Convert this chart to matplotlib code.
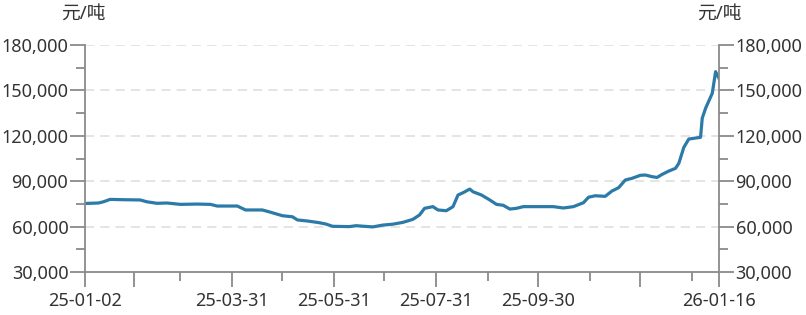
import matplotlib
matplotlib.use('Agg')
import matplotlib.pyplot as plt
import matplotlib.ticker as mticker
import pandas as pd

plt.rcParams['font.family'] = ['Noto Sans', 'Noto Sans CJK SC', 'DejaVu Sans']

# price series (元/吨)
dates = ['2025-01-02', '2025-01-10', '2025-01-13', '2025-01-17', '2025-01-24',
         '2025-02-04', '2025-02-08', '2025-02-14', '2025-02-20', '2025-02-28',
         '2025-03-10', '2025-03-18', '2025-03-22', '2025-04-03', '2025-04-08',
         '2025-04-18', '2025-04-22', '2025-04-30', '2025-05-06', '2025-05-09',
         '2025-05-15', '2025-05-22', '2025-05-26', '2025-05-30', '2025-06-09',
         '2025-06-13', '2025-06-23', '2025-06-29', '2025-07-05', '2025-07-11',
         '2025-07-17', '2025-07-21', '2025-07-24', '2025-07-29', '2025-08-01',
         '2025-08-06', '2025-08-10', '2025-08-13', '2025-08-16', '2025-08-20',
         '2025-08-22', '2025-08-27', '2025-09-01', '2025-09-05', '2025-09-09',
         '2025-09-13', '2025-09-17', '2025-09-21', '2025-10-09', '2025-10-15',
         '2025-10-21', '2025-10-27', '2025-10-30', '2025-11-03', '2025-11-09',
         '2025-11-13', '2025-11-17', '2025-11-21', '2025-11-25', '2025-11-30',
         '2025-12-03', '2025-12-07', '2025-12-10', '2025-12-13', '2025-12-17',
         '2025-12-21', '2025-12-23', '2025-12-26', '2025-12-29', '2026-01-05',
         '2026-01-06', '2026-01-08', '2026-01-12', '2026-01-14', '2026-01-16']
prices = [75300, 75600, 76400, 78000, 77800,
          77600, 76400, 75400, 75600, 74700,
          74900, 74700, 73600, 73600, 71000,
          71000, 69800, 67200, 66500, 64400,
          63700, 62600, 61700, 60200, 60000,
          60600, 59800, 61000, 61600, 62800,
          64800, 67700, 72100, 73200, 71000,
          70500, 73200, 80900, 82400, 84800,
          83000, 80900, 77600, 74700, 74100,
          71600, 72100, 73200, 73200, 72300,
          73200, 75800, 79400, 80400, 80000,
          83500, 85700, 90800, 91900, 93900,
          94100, 93000, 92500, 94500, 96700,
          98500, 101800, 112400, 117900, 119000,
          131600, 138200, 148100, 162400, 158000]

# x axis ticks
major_ticks = ['2025-01-02', '2025-01-31', '2025-03-31', '2025-05-31',
               '2025-07-31', '2025-09-30', '2025-11-30', '2026-01-16']
major_labels = ['25-01-02', '', '25-03-31', '25-05-31',
                '25-07-31', '25-09-30', '', '26-01-16']
minor_ticks = ['2025-02-28', '2025-04-30', '2025-06-30',
               '2025-08-31', '2025-10-31', '2025-12-31']
y_ticks = [30000, 60000, 90000, 120000, 150000, 180000]
unit = '元/吨'

x = pd.to_datetime(dates)
axis_color = '#8a8a8a'
text_color = '#333333'

fig = plt.figure(figsize=(8.06, 3.15), dpi=100)
ax = fig.add_axes([0.1055, 0.1365, 0.7865, 0.7205])

ax.plot(x, prices, color='#2b7aa8', lw=2.3, solid_joinstyle='round')

ax.set_xlim(pd.Timestamp(major_ticks[0]), pd.Timestamp(major_ticks[-1]))
ax.set_ylim(30000, 180000)

ax.set_xticks(pd.to_datetime(major_ticks))
ax.set_xticklabels(major_labels)
ax.set_xticks(pd.to_datetime(minor_ticks), minor=True)

ax.set_yticks(y_ticks)
ax.yaxis.set_minor_locator(mticker.MultipleLocator(15000))
ax.yaxis.set_major_formatter(mticker.FuncFormatter(lambda v, p: f'{int(v):,}'))

for side in ['left', 'right', 'bottom']:
    ax.spines[side].set_color(axis_color)
    ax.spines[side].set_linewidth(1.3)
ax.spines['top'].set_visible(False)

ax.tick_params(axis='y', which='both', left=True, right=True,
               labelleft=True, labelright=True, color=axis_color, width=1.3)
ax.tick_params(axis='y', which='major', length=11, pad=1,
               labelsize=13, labelcolor=text_color)
ax.tick_params(axis='y', which='minor', length=6.5)
ax.tick_params(axis='x', which='both', color=axis_color, width=1.3)
ax.tick_params(axis='x', which='major', length=11, pad=3.5,
               labelsize=13, labelcolor=text_color)
ax.tick_params(axis='x', which='minor', length=6.5)

for v in y_ticks[1:]:
    ax.axhline(v, color='#dcdcdc', lw=1.1, ls=(0, (6, 4)), zorder=0)

fig.text(83 / 806, 1 - 14 / 315, unit, ha='center', va='center',
         fontsize=13.5, color=text_color)
fig.text(719 / 806, 1 - 14 / 315, unit, ha='center', va='center',
         fontsize=13.5, color=text_color)

fig.savefig('out.png', dpi=100)
